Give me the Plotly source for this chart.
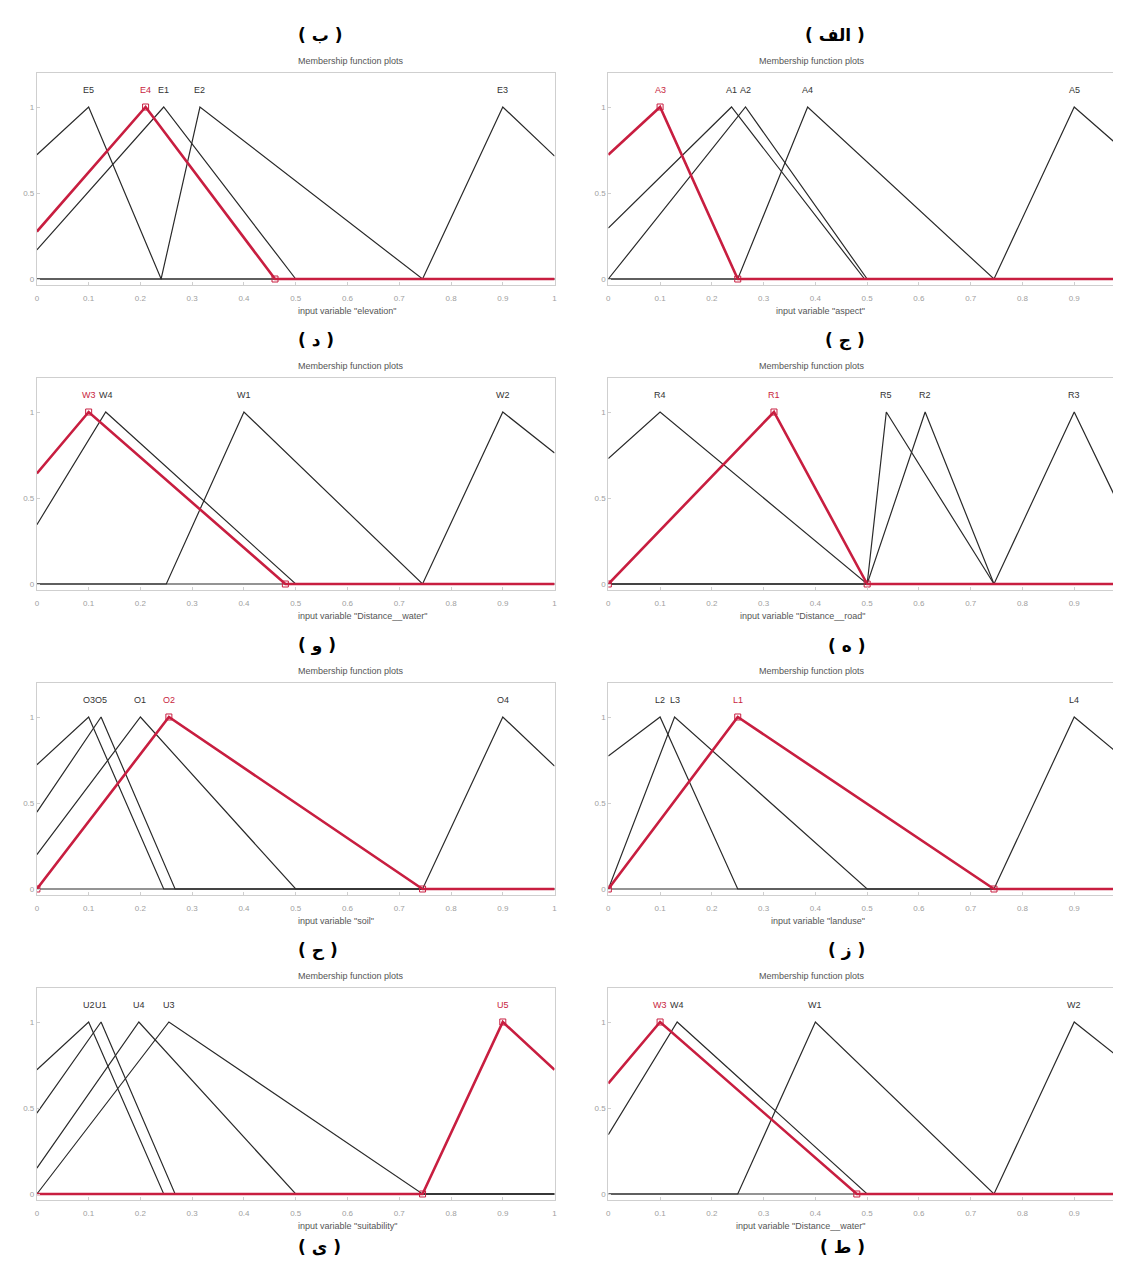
import plotly.graph_objects as go

# triangular membership functions, each given as [left foot, peak, right foot]
elev_names = ["E5", "E4", "E1", "E2", "E3"]
elev_params = [[-0.26, 0.10, 0.24], [-0.08, 0.21, 0.46], [-0.05, 0.245, 0.50],
               [0.24, 0.315, 0.745], [0.745, 0.90, 1.25]]
elev_sel = "E4"

aspect_names = ["A3", "A1", "A2", "A4", "A5"]
aspect_params = [[-0.26, 0.10, 0.25], [-0.10, 0.238, 0.495], [0.0, 0.265, 0.50],
                 [0.25, 0.385, 0.745], [0.745, 0.90, 1.28]]
aspect_sel = "A3"

water_names = ["W3", "W4", "W1", "W2"]
water_params = [[-0.18, 0.10, 0.48], [-0.07, 0.133, 0.50],
                [0.25, 0.40, 0.745], [0.745, 0.90, 1.32]]
water_sel = "W3"

road_names = ["R4", "R1", "R5", "R2", "R3"]
road_params = [[-0.27, 0.10, 0.50], [0.0, 0.32, 0.50], [0.50, 0.537, 0.745],
               [0.50, 0.612, 0.745], [0.745, 0.90, 1.06]]
road_sel = "R1"

soil_names = ["O3", "O5", "O1", "O2", "O4"]
soil_params = [[-0.26, 0.10, 0.245], [-0.10, 0.124, 0.267], [-0.05, 0.20, 0.50],
               [0.0, 0.255, 0.745], [0.745, 0.90, 1.25]]
soil_sel = "O2"

land_names = ["L2", "L3", "L1", "L4"]
land_params = [[-0.34, 0.10, 0.25], [0.0, 0.128, 0.50], [0.0, 0.25, 0.745],
               [0.745, 0.90, 1.30]]
land_sel = "L1"

suit_names = ["U2", "U1", "U4", "U3", "U5"]
suit_params = [[-0.26, 0.10, 0.245], [-0.11, 0.124, 0.267], [-0.035, 0.197, 0.50],
               [0.0, 0.255, 0.745], [0.745, 0.90, 1.26]]
suit_sel = "U5"

x_ticks = [0, 0.1, 0.2, 0.3, 0.4, 0.5, 0.6, 0.7, 0.8, 0.9, 1]
x_ticktext = ["0", "0.1", "0.2", "0.3", "0.4", "0.5", "0.6", "0.7", "0.8", "0.9", "1"]
y_ticks = [0, 0.5, 1]
y_ticktext = ["0", "0.5", "1"]

captions_left = ["( ب )", "( د )", "( و )", "( ح )", "( ی )"]
captions_right = ["( الف )", "( ج )", "( ه )", "( ز )", "( ط )"]

# (row, col, names, params, selected, variable)
panels = [
    (0, 0, elev_names, elev_params, elev_sel, "elevation"),
    (0, 1, aspect_names, aspect_params, aspect_sel, "aspect"),
    (1, 0, water_names, water_params, water_sel, "Distance__water"),
    (1, 1, road_names, road_params, road_sel, "Distance__road"),
    (2, 0, soil_names, soil_params, soil_sel, "soil"),
    (2, 1, land_names, land_params, land_sel, "landuse"),
    (3, 0, suit_names, suit_params, suit_sel, "suitability"),
    (3, 1, water_names, water_params, water_sel, "Distance__water"),
]

W, H = 1121, 1262
COL_PX = [(27, 547), (601, 1121)]
ROW_BASE = [271, 576, 881, 1186]        # pixel row of y = 0
CAPTION_PX = [27, 332, 638, 942, 1239]  # pixel rows of the Persian captions
UNIT = 172                               # pixels per membership unit
Y_RANGE = [-0.035, 1.2]
RED = "#c81e40"
BLACK = "#2a2a2a"


def trimf(x, a, b, c):
    if x <= a or x >= c:
        return 0.0
    if x <= b:
        return (x - a) / (b - a)
    return (c - x) / (c - b)


def py(px):
    return 1 - px / H


fig = go.Figure()
annotations = []

for k, (row, col, names, params, sel, var) in enumerate(panels, start=1):
    xa = "x" if k == 1 else f"x{k}"
    ya = "y" if k == 1 else f"y{k}"
    x0, x1 = COL_PX[col]
    base = ROW_BASE[row]
    top = base - Y_RANGE[1] * UNIT
    bottom = base - Y_RANGE[0] * UNIT

    order = [i for i, n in enumerate(names) if n != sel] + [names.index(sel)]
    for i in order:
        a, b, c = params[i]
        xs = sorted({0.0, 1.0} | {p for p in (a, b, c) if 0 < p < 1})
        ys = [trimf(x, a, b, c) for x in xs]
        is_sel = names[i] == sel
        fig.add_trace(go.Scatter(
            x=xs, y=ys, mode="lines", xaxis=xa, yaxis=ya, showlegend=False,
            line=dict(color=RED if is_sel else BLACK, width=2.6 if is_sel else 1.2),
            hoverinfo="skip",
        ))
        if is_sel:
            vx = [p for p in (a, b, c) if 0 <= p <= 1]
            fig.add_trace(go.Scatter(
                x=vx, y=[trimf(p, a, b, c) if p != b else 1.0 for p in vx],
                mode="markers", xaxis=xa, yaxis=ya, showlegend=False,
                marker=dict(symbol="square-open", size=6, color=RED, line=dict(width=1)),
                hoverinfo="skip",
            ))
        if 0 <= b <= 1:
            annotations.append(dict(
                x=b, y=1.1, xref=xa, yref=ya, text=names[i], showarrow=False,
                font=dict(size=9, color=RED if is_sel else "#333333", family="Arial"),
            ))

    key = "" if k == 1 else str(k)
    common = dict(
        showline=True, linecolor="#cfcfcf", linewidth=1,
        showgrid=False, zeroline=False, ticks="inside", ticklen=3,
        tickcolor="#cfcfcf", tickfont=dict(size=8, color="#a0a0a0", family="Arial"),
        fixedrange=True,
    )
    # right-hand panels are cut at the page edge: no last tick label, no right border
    n_ticks = len(x_ticks) if col == 0 else len(x_ticks) - 1
    fig.update_layout(**{
        f"xaxis{key}": dict(domain=[x0 / W, x1 / W], range=[0, 1], anchor=ya,
                            tickvals=x_ticks[:n_ticks], ticktext=x_ticktext[:n_ticks],
                            ticklabelstandoff=5, mirror=True, **common),
        f"yaxis{key}": dict(domain=[py(bottom), py(top)], range=Y_RANGE, anchor=xa,
                            tickvals=y_ticks, ticktext=y_ticktext,
                            mirror=(col == 0), **common),
    })

    cx = (x0 + x1) / 2 / W
    annotations.append(dict(
        x=cx, y=py(base - 218), xref="paper", yref="paper", showarrow=False,
        text="Membership function plots", yanchor="middle",
        font=dict(size=9, color="#555555", family="Arial"),
    ))
    annotations.append(dict(
        x=cx, y=py(base + 32), xref="paper", yref="paper", showarrow=False,
        text=f'input variable "{var}"', yanchor="middle",
        font=dict(size=9, color="#555555", family="Arial"),
    ))

# Persian panel captions
for r, ypx in enumerate(CAPTION_PX):
    for col, caps in enumerate([captions_left, captions_right]):
        x0, x1 = COL_PX[col]
        annotations.append(dict(
            x=(x0 + x1) / 2 / W, y=py(ypx), xref="paper", yref="paper",
            showarrow=False, text=f"<b>{caps[r]}</b>", yanchor="middle",
            font=dict(size=17, color="#000000", family="DejaVu Sans"),
        ))

fig.update_layout(
    width=W, height=H, autosize=False,
    margin=dict(l=0, r=0, t=0, b=0),
    paper_bgcolor="white", plot_bgcolor="white",
    annotations=annotations,
)

fig.write_html("out.html", config={"displayModeBar": False})
